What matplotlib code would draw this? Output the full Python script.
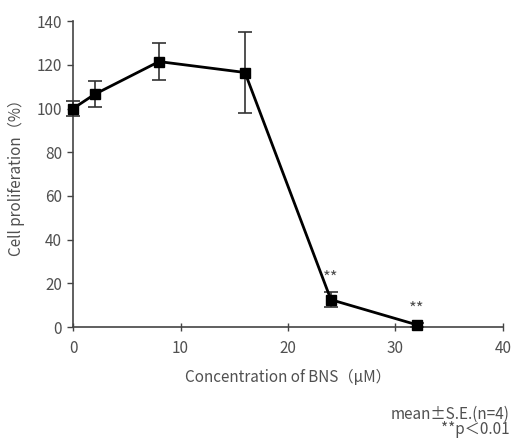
import numpy as np
import matplotlib
matplotlib.use("Agg")
import matplotlib.pyplot as plt

plt.rcParams['font.family'] = ['Noto Sans CJK JP', 'DejaVu Sans']

# concentration (uM) vs cell proliferation (%)
conc = [0, 2, 8, 16, 24, 32]
prolif = [100, 106.5, 121.5, 116.5, 12.5, 1.0]
se = [3.5, 6.0, 8.5, 18.5, 3.5, 0.8]
signif = ['', '', '', '', '**', '**']

txt_col = '#505050'

fig = plt.figure(figsize=(5.11, 4.41), dpi=100)
ax = fig.add_axes([0.143, 0.2585, 0.841, 0.6935])

ax.errorbar(conc, prolif, yerr=se, color='black', lw=2, marker='s', ms=6.5,
            elinewidth=1.2, capsize=5, capthick=1.2, ecolor='#333333', clip_on=False, zorder=3)

for x, y, e, s in zip(conc, prolif, se, signif):
    if s:
        ax.text(x, y + e + 2.5, s, ha='center', va='bottom', fontsize=12, color=txt_col)

ax.set_xlim(0, 40)
ax.set_ylim(0, 140)
ax.set_xticks(np.arange(0, 41, 10))
ax.set_yticks(np.arange(0, 141, 20))
for sp in ['top', 'right']:
    ax.spines[sp].set_visible(False)
for sp in ['left', 'bottom']:
    ax.spines[sp].set_color('#444444')
    ax.spines[sp].set_linewidth(1.2)
ax.tick_params(colors='#444444', labelcolor=txt_col, labelsize=11, width=1)
ax.tick_params(axis='x', direction='inout', length=6, pad=6)
ax.tick_params(axis='y', direction='out', length=4, pad=4)

ax.set_xlabel('Concentration of BNS（μM）', fontsize=11, color=txt_col, labelpad=9)
ax.set_ylabel('Cell proliferation（%）', fontsize=11, color=txt_col, labelpad=8)

fig.text(0.998, 1 - 414 / 441, 'mean±S.E.(n=4)', ha='right', va='center',
         fontsize=11, color=txt_col)
fig.text(0.998, 1 - 430 / 441, '**p＜0.01', ha='right', va='center',
         fontsize=11, color=txt_col)

fig.savefig('out.png', dpi=100)
